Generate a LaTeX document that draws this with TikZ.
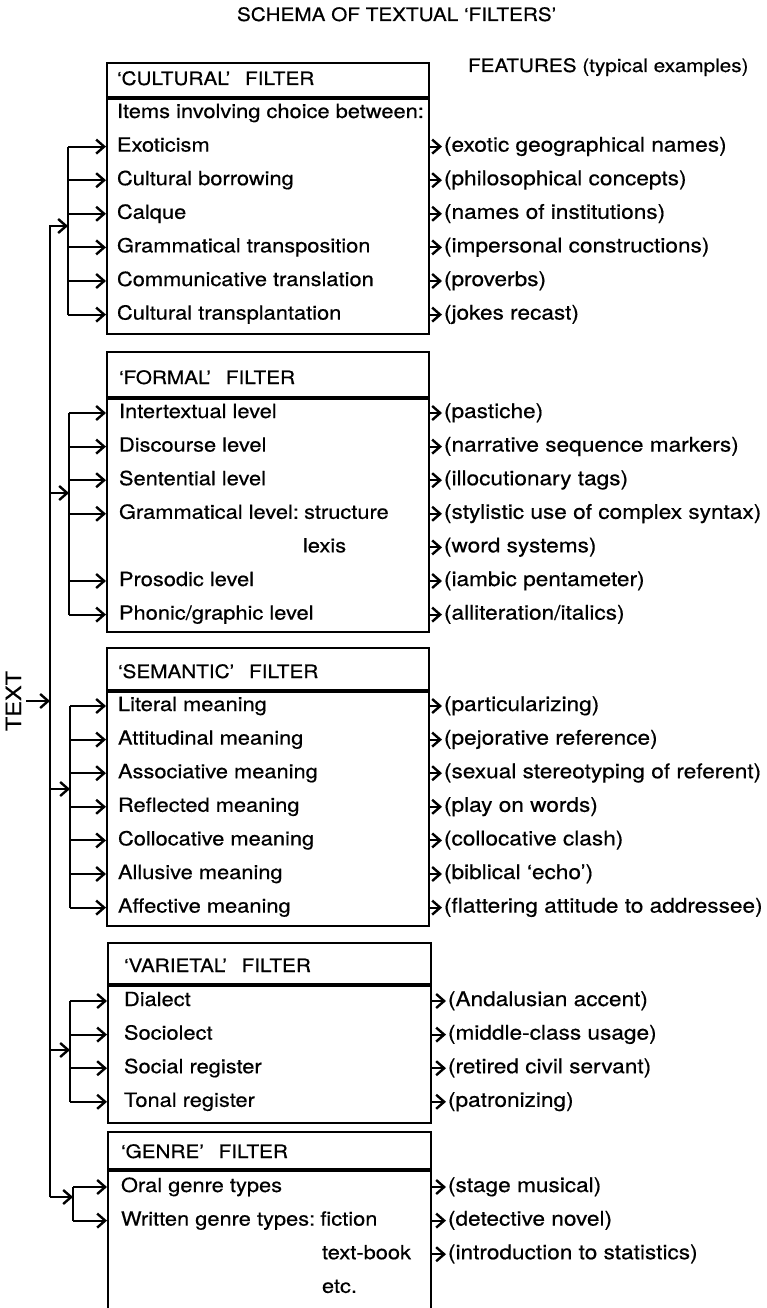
\documentclass[tikz,border=0pt]{standalone}
\usepackage{fontspec}
\setmainfont{TeX Gyre Heros}[FakeStretch=1.12, FakeBold=0.5]
\usetikzlibrary{positioning, arrows.meta}
\tikzset{%
  >={Straight Barb[length=8pt,width=14pt,line width=2.4pt]},
  % Specifications for style of nodes:
  base/.style = {
    inner sep=0pt,
    text height=14pt,
    text depth=4pt,
    anchor=west
  },
  item/.style={base, font=\fontsize{19.5}{22}\selectfont},
  feature/.style={base, inner xsep=1pt, font=\fontsize{20.2}{22}\selectfont},
  heading/.style={base, font=\fontsize{18.5}{22}\selectfont},
  filter/.style={draw=black, minimum width=322pt, anchor=north west, inner sep=0pt},
  nextrow/.style={below=33.6pt of #1.west, anchor=west},
}

\begin{document}
\begin{tikzpicture}[
  x=1pt, y=-1pt,
  line width=2pt,
  line join=miter,
  ]
  \useasboundingbox (0,0) rectangle (766,1308);
  % headings
  \node (title) [heading] at (236,16) {SCHEMA OF TEXTUAL ‘FILTERS’};
  \node (feat_head) [heading] at (467,67) {FEATURES (typical examples)};
  \node (txt) [heading, font=\fontsize{21}{22}\selectfont, rotate=90, anchor=center] at (16,701) {TEXT};

  % cultural filter
  \node (cult_head) [filter, minimum height=34pt] at (106,62) {};
  \node (cult_body) [filter, minimum height=235pt] at (cult_head.south west) {};
  \node (cult_title) [heading] at (116,80) {‘CULTURAL’\hspace{.8em}FILTER};
  \node (c0) [item] at (116,113) {Items involving choice between:};
  \node (c1) [item, nextrow=c0] {Exoticism};
  \node (c2) [item, nextrow=c1] {Cultural borrowing};
  \node (c3) [item, nextrow=c2] {Calque};
  \node (c4) [item, nextrow=c3] {Grammatical transposition};
  \node (c5) [item, nextrow=c4] {Communicative translation};
  \node (c6) [item, nextrow=c5] {Cultural transplantation};
  \coordinate (fx) at (442,0);
  \node (ce1) [feature] at (fx |- c1) {(exotic geographical names)};
  \node (ce2) [feature] at (fx |- c2) {(philosophical concepts)};
  \node (ce3) [feature] at (fx |- c3) {(names of institutions)};
  \node (ce4) [feature] at (fx |- c4) {(impersonal constructions)};
  \node (ce5) [feature] at (fx |- c5) {(proverbs)};
  \node (ce6) [feature] at (fx |- c6) {(jokes recast)};

  % formal filter
  \node (form_head) [filter, minimum height=45pt] at (106,351) {};
  \node (form_body) [filter, minimum height=233pt] at (form_head.south west) {};
  \node (form_title) [heading] at (118,379) {‘FORMAL’\hspace{.8em}FILTER};
  \node (f1) [item] at (118,413) {Intertextual level};
  \node (f2) [item, nextrow=f1] {Discourse level};
  \node (f3) [item, nextrow=f2] {Sentential level};
  \node (f4) [item, nextrow=f3] {Grammatical level:\hspace{-.15em} structure};
  \node (f5) [item, nextrow=f4, xshift=184pt] {lexis};
  \node (f6) [item, nextrow=f4, yshift=-33.6pt] {Prosodic level};
  \node (f7) [item, nextrow=f6] {Phonic/graphic level};
  \node (fe1) [feature] at (fx |- f1) {(pastiche)};
  \node (fe2) [feature] at (fx |- f2) {(narrative sequence markers)};
  \node (fe3) [feature] at (fx |- f3) {(illocutionary tags)};
  \node (fe4) [feature] at (fx |- f4) {(stylistic use of complex syntax)};
  \node (fe5) [feature] at (fx |- f5) {(word systems)};
  \node (fe6) [feature] at (fx |- f6) {(iambic pentameter)};
  \node (fe7) [feature] at (fx |- f7) {(alliteration/italics)};

  % semantic filter
  \node (sem_head) [filter, minimum height=42pt] at (106,647) {};
  \node (sem_body) [filter, minimum height=234pt] at (sem_head.south west) {};
  \node (sem_title) [heading] at (117,673) {‘SEMANTIC’\hspace{.8em}FILTER};
  \node (s1) [item] at (117,706) {Literal meaning};
  \node (s2) [item, nextrow=s1] {Attitudinal meaning};
  \node (s3) [item, nextrow=s2] {Associative meaning};
  \node (s4) [item, nextrow=s3] {Reflected meaning};
  \node (s5) [item, nextrow=s4] {Collocative meaning};
  \node (s6) [item, nextrow=s5] {Allusive meaning};
  \node (s7) [item, nextrow=s6] {Affective meaning};
  \node (se1) [feature] at (fx |- s1) {(particularizing)};
  \node (se2) [feature] at (fx |- s2) {(pejorative reference)};
  \node (se3) [feature] at (fx |- s3) {(sexual stereotyping of referent)};
  \node (se4) [feature] at (fx |- s4) {(play on words)};
  \node (se5) [feature] at (fx |- s5) {(collocative clash)};
  \node (se6) [feature] at (fx |- s6) {(biblical ‘echo’)};
  \node (se7) [feature] at (fx |- s7) {(flattering attitude to addressee)};

  % varietal filter
  \node (var_head) [filter, minimum width=323pt, minimum height=41pt] at (107,942) {};
  \node (var_body) [filter, minimum width=323pt, minimum height=137pt] at (var_head.south west) {};
  \node (var_title) [heading] at (123,967) {‘VARIETAL’\hspace{.8em}FILTER};
  \node (v1) [item] at (123,1001) {Dialect};
  \node (v2) [item, nextrow=v1] {Sociolect};
  \node (v3) [item, nextrow=v2] {Social register};
  \node (v4) [item, nextrow=v3] {Tonal register};
  \coordinate (gx) at (446,0);
  \node (ve1) [feature] at (gx |- v1) {(Andalusian accent)};
  \node (ve2) [feature] at (gx |- v2) {(middle-class usage)};
  \node (ve3) [feature] at (gx |- v3) {(retired civil servant)};
  \node (ve4) [feature] at (gx |- v4) {(patronizing)};

  % genre filter
  \node (gen_head) [filter, minimum width=323pt, minimum height=37pt] at (107,1131) {};
  \node (gen_body) [filter, minimum width=323pt, minimum height=138pt] at (gen_head.south west) {};
  \node (gen_title) [heading] at (120,1153) {‘GENRE’\hspace{.8em}FILTER};
  \node (g1) [item] at (120,1187) {Oral genre types};
  \node (g2) [item, nextrow=g1] {Written genre types:\hspace{-.15em} fiction};
  \node (g3) [item, nextrow=g2, xshift=201pt] {text-book};
  \node (g4) [item, nextrow=g3] {etc.};
  \node (ge1) [feature] at (gx |- g1) {(stage musical)};
  \node (ge2) [feature] at (gx |- g2) {(detective novel)};
  \node (ge3) [feature] at (gx |- g3) {(introduction to statistics)};

  % main line from the text
  \coordinate (cin) at (50,226);
  \coordinate (fin) at (50,493);
  \coordinate (sin) at (50,789);
  \coordinate (vin) at (50,1050);
  \coordinate (gin) at (50,1197);
  \coordinate (csp) at (68,0);
  \coordinate (fsp) at (69,0);
  \coordinate (ssp) at (70,0);
  \coordinate (vsp) at (70,0);
  \coordinate (gsp) at (73,0);
  \draw[->] (txt.south) -- (cin |- txt.south);
  \draw[->] (gin) -- (cin) -- (csp |- cin);
  \draw[->] (fin) -- (fsp |- fin);
  \draw[->] (sin) -- (ssp |- sin);
  \draw[->] (vin) -- (vsp |- vin);
  \draw[->] (gin) -- (gsp |- gin);

  % lines into the filters
  \draw (csp |- c1) -- (csp |- c6);
  \draw[->] (csp |- c1) -- (cult_body.west |- c1);
  \draw[->] (csp |- c2) -- (cult_body.west |- c2);
  \draw[->] (csp |- c3) -- (cult_body.west |- c3);
  \draw[->] (csp |- c4) -- (cult_body.west |- c4);
  \draw[->] (csp |- c5) -- (cult_body.west |- c5);
  \draw[->] (csp |- c6) -- (cult_body.west |- c6);
  \draw (fsp |- f1) -- (fsp |- f7);
  \draw[->] (fsp |- f1) -- (form_body.west |- f1);
  \draw[->] (fsp |- f2) -- (form_body.west |- f2);
  \draw[->] (fsp |- f3) -- (form_body.west |- f3);
  \draw[->] (fsp |- f4) -- (form_body.west |- f4);
  \draw[->] (fsp |- f6) -- (form_body.west |- f6);
  \draw[->] (fsp |- f7) -- (form_body.west |- f7);
  \draw (ssp |- s1) -- (ssp |- s7);
  \draw[->] (ssp |- s1) -- (sem_body.west |- s1);
  \draw[->] (ssp |- s2) -- (sem_body.west |- s2);
  \draw[->] (ssp |- s3) -- (sem_body.west |- s3);
  \draw[->] (ssp |- s4) -- (sem_body.west |- s4);
  \draw[->] (ssp |- s5) -- (sem_body.west |- s5);
  \draw[->] (ssp |- s6) -- (sem_body.west |- s6);
  \draw[->] (ssp |- s7) -- (sem_body.west |- s7);
  \draw (vsp |- v1) -- (vsp |- v4);
  \draw[->] (vsp |- v1) -- (var_body.west |- v1);
  \draw[->] (vsp |- v2) -- (var_body.west |- v2);
  \draw[->] (vsp |- v3) -- (var_body.west |- v3);
  \draw[->] (vsp |- v4) -- (var_body.west |- v4);
  \draw (gsp |- g1) -- (gsp |- g2);
  \draw[->] (gsp |- g1) -- (gen_body.west |- g1);
  \draw[->] (gsp |- g2) -- (gen_body.west |- g2);

  % lines out to the features
  \draw[->] (cult_body.east |- ce1) -- (ce1.west);
  \draw[->] (cult_body.east |- ce2) -- (ce2.west);
  \draw[->] (cult_body.east |- ce3) -- (ce3.west);
  \draw[->] (cult_body.east |- ce4) -- (ce4.west);
  \draw[->] (cult_body.east |- ce5) -- (ce5.west);
  \draw[->] (cult_body.east |- ce6) -- (ce6.west);
  \draw[->] (form_body.east |- fe1) -- (fe1.west);
  \draw[->] (form_body.east |- fe2) -- (fe2.west);
  \draw[->] (form_body.east |- fe3) -- (fe3.west);
  \draw[->] (form_body.east |- fe4) -- (fe4.west);
  \draw[->] (form_body.east |- fe5) -- (fe5.west);
  \draw[->] (form_body.east |- fe6) -- (fe6.west);
  \draw[->] (form_body.east |- fe7) -- (fe7.west);
  \draw[->] (sem_body.east |- se1) -- (se1.west);
  \draw[->] (sem_body.east |- se2) -- (se2.west);
  \draw[->] (sem_body.east |- se3) -- (se3.west);
  \draw[->] (sem_body.east |- se4) -- (se4.west);
  \draw[->] (sem_body.east |- se5) -- (se5.west);
  \draw[->] (sem_body.east |- se6) -- (se6.west);
  \draw[->] (sem_body.east |- se7) -- (se7.west);
  \draw[->] (var_body.east |- ve1) -- (ve1.west);
  \draw[->] (var_body.east |- ve2) -- (ve2.west);
  \draw[->] (var_body.east |- ve3) -- (ve3.west);
  \draw[->] (var_body.east |- ve4) -- (ve4.west);
  \draw[->] (gen_body.east |- ge1) -- (ge1.west);
  \draw[->] (gen_body.east |- ge2) -- (ge2.west);
  \draw[->] (gen_body.east |- ge3) -- (ge3.west);
\end{tikzpicture}
\end{document}
